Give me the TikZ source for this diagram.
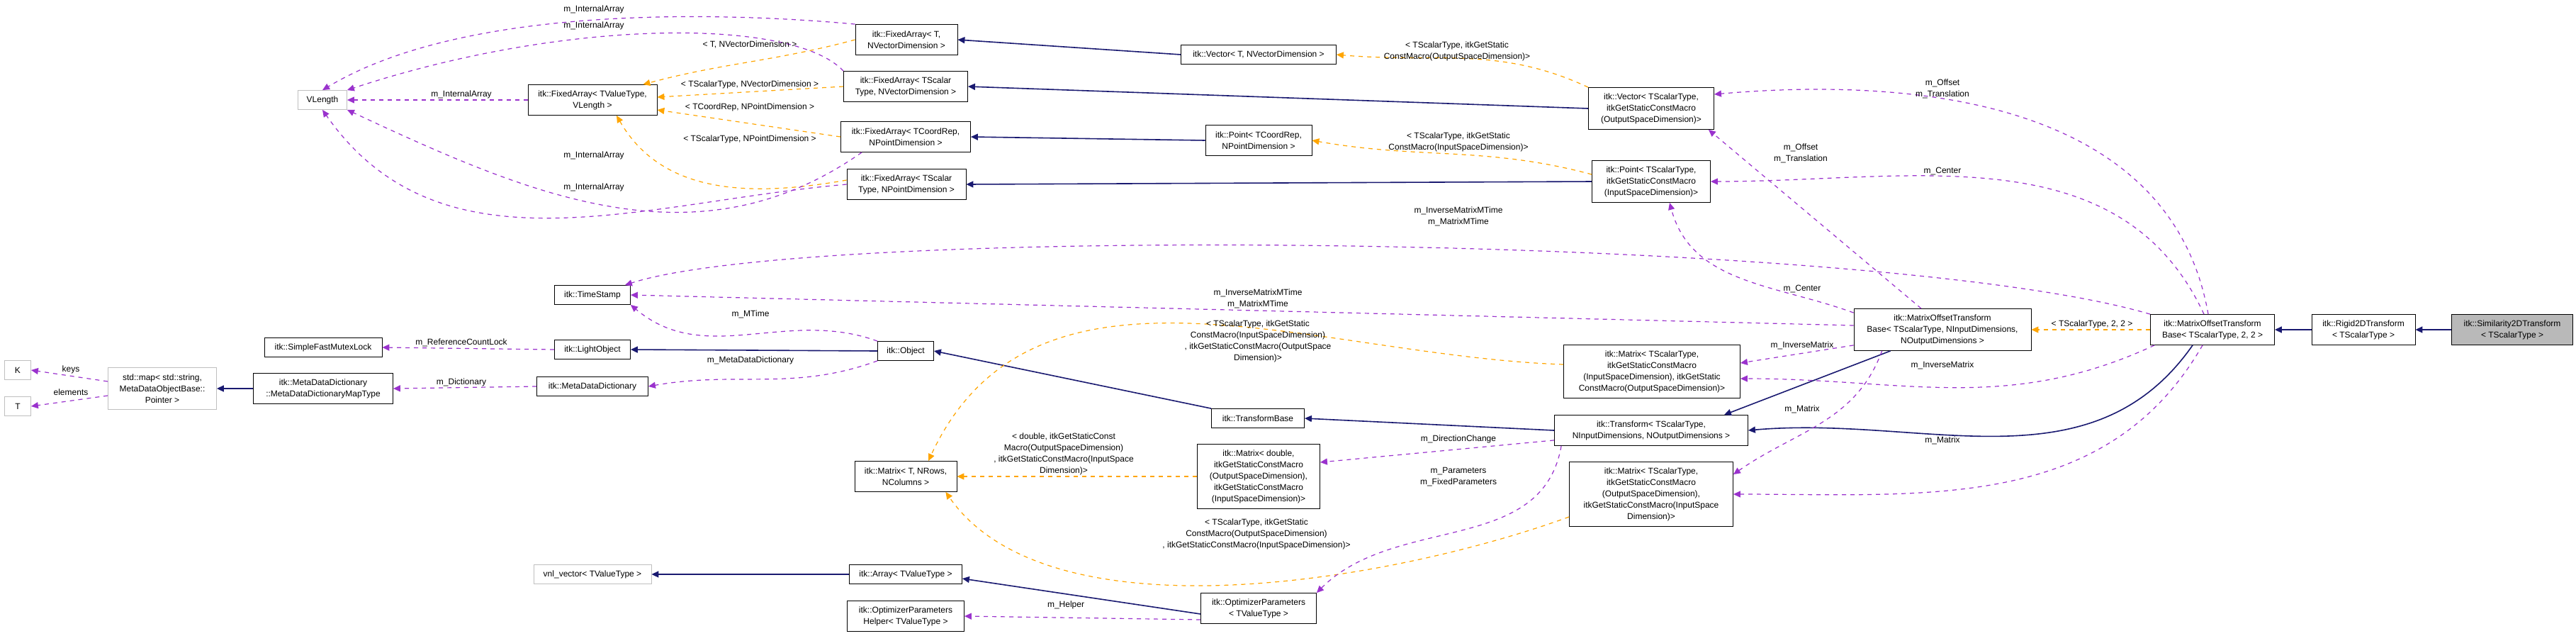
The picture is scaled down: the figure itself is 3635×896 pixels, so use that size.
\documentclass[tikz,border=0pt]{standalone}
\usepackage{fontspec}
\setmainfont{Liberation Sans}
\usetikzlibrary{arrows.meta,positioning}

\definecolor{navyedge}{RGB}{25,25,112}
\definecolor{memb}{RGB}{154,50,205}
\definecolor{tmpl}{RGB}{255,165,0}

\tikzset{
  cls/.style={draw=black, fill=white, align=center, inner sep=0pt,
    font=\fontsize{6}{8}\selectfont},
  ext/.style={cls, draw=gray!50},
  sz/.style 2 args={minimum width=#1*0.5pt, minimum height=#2*0.5pt},
  inh/.style={draw=navyedge, line width=0.8pt, -{Triangle[length=5pt,width=4.5pt]}},
  mem/.style={draw=memb, dashed, line width=0.6pt, -{Triangle[length=5pt,width=4.5pt]}},
  tpl/.style={draw=tmpl, dashed, line width=0.6pt, -{Triangle[length=5pt,width=4.5pt]}},
  lbl/.style={font=\fontsize{6}{8}\selectfont, align=center, inner sep=0pt}
}

\begin{document}
\begin{tikzpicture}[x=0.5pt,y=-0.5pt]
\useasboundingbox (0,0) rectangle (3635,896);

% classes
\node[ext,sz={69}{27}] (VLength) at (455,141) {VLength};
\node[cls,sz={182}{43}] (FA_TV) at (836,141) {itk::FixedArray< TValueType,\\VLength >};
\node[cls,sz={144}{43}] (FA_T) at (1279,56) {itk::FixedArray< T,\\NVectorDimension >};
\node[cls,sz={175}{43}] (FA_SV) at (1278,122) {itk::FixedArray< TScalar\\Type, NVectorDimension >};
\node[cls,sz={183}{43}] (FA_CR) at (1278,193) {itk::FixedArray< TCoordRep,\\NPointDimension >};
\node[cls,sz={168}{43}] (FA_SP) at (1279,260) {itk::FixedArray< TScalar\\Type, NPointDimension >};
\node[cls,sz={219}{27}] (VecT) at (1776,77) {itk::Vector< T, NVectorDimension >};
\node[cls,sz={150}{43}] (PtT) at (1776,198) {itk::Point< TCoordRep,\\NPointDimension >};
\node[cls,sz={177}{59}] (VecS) at (2330,153) {itk::Vector< TScalarType,\\itkGetStaticConstMacro\\(OutputSpaceDimension)>};
\node[cls,sz={167}{59}] (PtS) at (2330,256) {itk::Point< TScalarType,\\itkGetStaticConstMacro\\(InputSpaceDimension)>};

\node[cls,sz={107}{27}] (TimeStamp) at (836,416) {itk::TimeStamp};
\node[cls,sz={166}{27}] (Mutex) at (456,490) {itk::SimpleFastMutexLock};
\node[cls,sz={107}{27}] (LightObj) at (836,493) {itk::LightObject};
\node[cls,sz={157}{27}] (MDD) at (836,545) {itk::MetaDataDictionary};
\node[cls,sz={197}{43}] (MDDMap) at (456,548) {itk::MetaDataDictionary\\::MetaDataDictionaryMapType};
\node[ext,sz={153}{59}] (StdMap) at (229,548) {std::map< std::string,\\MetaDataObjectBase::\\Pointer >};
\node[ext,sz={37}{27}] (K) at (25,522) {K};
\node[ext,sz={37}{27}] (T) at (25,573) {T};
\node[cls,sz={79}{27}] (Object) at (1278,495) {itk::Object};
\node[cls,sz={131}{27}] (TfBase) at (1775,590) {itk::TransformBase};

\node[cls,sz={144}{43}] (MatT) at (1278,672) {itk::Matrix< T, NRows,\\NColumns >};
\node[cls,sz={173}{91}] (MatD) at (1776,672) {itk::Matrix< double,\\itkGetStaticConstMacro\\(OutputSpaceDimension),\\itkGetStaticConstMacro\\(InputSpaceDimension)>};
\node[cls,sz={249}{75}] (MatIO) at (2331,524) {itk::Matrix< TScalarType,\\itkGetStaticConstMacro\\(InputSpaceDimension), itkGetStatic\\ConstMacro(OutputSpaceDimension)>};
\node[cls,sz={273}{43}] (Transform) at (2330,607) {itk::Transform< TScalarType,\\NInputDimensions, NOutputDimensions >};
\node[cls,sz={231}{91}] (MatOI) at (2330,697) {itk::Matrix< TScalarType,\\itkGetStaticConstMacro\\(OutputSpaceDimension),\\itkGetStaticConstMacro(InputSpace\\Dimension)>};
\node[cls,sz={250}{59}] (MOTBN) at (2741,465) {itk::MatrixOffsetTransform\\Base< TScalarType, NInputDimensions,\\NOutputDimensions >};
\node[cls,sz={175}{43}] (MOTB22) at (3122,465) {itk::MatrixOffsetTransform\\Base< TScalarType, 2, 2 >};
\node[cls,sz={146}{43}] (Rigid) at (3335,465) {itk::Rigid2DTransform\\< TScalarType >};
\node[cls,sz={171}{43},fill=gray!55] (Sim) at (3545,465) {itk::Similarity2DTransform\\< TScalarType >};

\node[ext,sz={166}{27}] (vnl) at (836,810) {vnl\_vector< TValueType >};
\node[cls,sz={159}{27}] (Array) at (1278,810) {itk::Array< TValueType >};
\node[cls,sz={163}{43}] (OptP) at (1776,858) {itk::OptimizerParameters\\< TValueType >};
\node[cls,sz={165}{43}] (OptH) at (1278,869) {itk::OptimizerParameters\\Helper< TValueType >};

% inheritance
\draw[inh] (VecT.west) -- (FA_T.east);
\draw[inh] (VecS.west) -- (FA_SV.east);
\draw[inh] (PtT.west) -- (FA_CR.east);
\draw[inh] (PtS.west) -- (FA_SP.east);
\draw[inh] (Object.west) -- (LightObj.east);
\draw[inh] (MDDMap.west) -- (StdMap.east);
\draw[inh] (TfBase.north west) -- (Object.east);
\draw[inh] (Transform.west) -- (TfBase.east);
\draw[inh] ([xshift=26pt]MOTBN.south west) -- ([xshift=-17pt]Transform.north east);
\draw[inh] ([xshift=-14pt]MOTB22.south) to[out=235,in=5] (Transform.east);
\draw[inh] (Rigid.west) -- (MOTB22.east);
\draw[inh] (Sim.west) -- (Rigid.east);
\draw[inh] (Array.west) -- (vnl.east);
\draw[inh] ([yshift=-4pt]OptP.west) -- ([yshift=-3pt]Array.east);

% template instances
\draw[tpl] (FA_T.west) to[out=195,in=15] ([xshift=-10pt]FA_TV.north east);
\draw[tpl] (FA_SV.west) -- ([yshift=2pt]FA_TV.east);
\draw[tpl] (FA_CR.west) -- ([yshift=-7pt]FA_TV.east);
\draw[tpl] ([yshift=3pt]FA_SP.west) to[out=190,in=-60] ([xshift=17pt]FA_TV.south);
\draw[tpl] (VecS.north west) to[out=155,in=-5] (VecT.east);
\draw[tpl] ([yshift=5pt]PtS.west) to[out=165,in=-10] (PtT.east);
\draw[tpl] (MatD.west) -- (MatT.east);
\draw[tpl] ([yshift=5pt]MatIO.west) to[out=178,in=65] ([xshift=16pt]MatT.north);
\draw[tpl] ([yshift=-16pt]MatOI.west) to[out=200,in=-55,looseness=0.75] ([xshift=-8pt]MatT.south east);
\draw[tpl] (MOTB22.west) -- (MOTBN.east);

% members
\draw[mem] (FA_T.north west) .. controls (1000,15) and (650,10) .. (VLength.north);
\draw[mem] (FA_SV.north west) .. controls (1120,25) and (800,25) .. (VLength.north east);
\draw[mem] (FA_TV.west) -- (VLength.east);
\draw[mem] ([xshift=15pt]FA_CR.south west) to[out=215,in=-25] (VLength.south east);
\draw[mem] (FA_SP.west) to[out=185,in=-55] (VLength.south);
\draw[mem] ([yshift=5pt]StdMap.west) -- (K.east);
\draw[mem] ([yshift=-5pt]StdMap.west) -- (T.east);
\draw[mem] (LightObj.west) -- (Mutex.east);
\draw[mem] (MDD.west) -- (MDDMap.east);
\draw[mem] (Object.south west) to[out=200,in=10] (MDD.east);
\draw[mem] (Object.north west) to[out=160,in=-40] (TimeStamp.south east);
\draw[mem] ([yshift=3pt]MOTBN.west) -- (TimeStamp.east);
\draw[mem] (MOTB22.north west) .. controls (2650,330) and (1150,315) .. ([xshift=-4pt]TimeStamp.north east);
\draw[mem] ([xshift=-3pt]MOTB22.north) to[out=100,in=5] ([yshift=10pt]VecS.east);
\draw[mem] ([xshift=-6pt]MOTB22.north) to[out=115,in=0] (PtS.east);
\draw[mem] ([xshift=-15pt]MOTBN.north) -- ([xshift=-4pt]VecS.south east);
\draw[mem] ([yshift=-3pt]MOTBN.north west) to[out=160,in=-75] ([xshift=13pt]PtS.south);
\draw[mem] ([yshift=4pt]MOTBN.south west) -- ([yshift=6pt]MatIO.east);
\draw[mem] ([xshift=3pt]MOTB22.south west) to[out=205,in=0] ([yshift=-5pt]MatIO.east);
\draw[mem] ([xshift=20pt]MOTBN.south west) to[out=-110,in=35] ([yshift=-9pt]MatOI.north east);
\draw[mem] ([xshift=-7pt]MOTB22.south) to[out=-120,in=0] (MatOI.east);
\draw[mem] ([yshift=4pt]Transform.south west) -- ([yshift=10pt]MatD.east);
\draw[mem] ([xshift=5pt]Transform.south west) to[out=-100,in=45] (OptP.north east);
\draw[mem] ([yshift=-8pt]OptP.west) -- (OptH.east);

% labels
\node[lbl] (l1) at (838,13) {m\_InternalArray};
\node[lbl] (l2) at (838,36) {m\_InternalArray};
\node[lbl] (l3) at (651,133) {m\_InternalArray};
\node[lbl] (l4) at (838,219) {m\_InternalArray};
\node[lbl] (l5) at (838,264) {m\_InternalArray};
\node[lbl] (l6) at (1058,63) {< T, NVectorDimension >};
\node[lbl] (l7) at (1058,119) {< TScalarType, NVectorDimension >};
\node[lbl] (l8) at (1058,151) {< TCoordRep, NPointDimension >};
\node[lbl] (l9) at (1058,196) {< TScalarType, NPointDimension >};
\node[lbl] (l10) at (2056,72) {< TScalarType, itkGetStatic\\ConstMacro(OutputSpaceDimension)>};
\node[lbl] (l11) at (2058,200) {< TScalarType, itkGetStatic\\ConstMacro(InputSpaceDimension)>};
\node[lbl] (l12) at (2741,125) {m\_Offset\\m\_Translation};
\node[lbl] (l13) at (2541,216) {m\_Offset\\m\_Translation};
\node[lbl] (l14) at (2741,241) {m\_Center};
\node[lbl] (l15) at (2058,305) {m\_InverseMatrixMTime\\m\_MatrixMTime};
\node[lbl] (l16) at (2543,407) {m\_Center};
\node[lbl] (l17) at (1775,421) {m\_InverseMatrixMTime\\m\_MatrixMTime};
\node[lbl] (l18) at (1059,443) {m\_MTime};
\node[lbl] (l19) at (651,483) {m\_ReferenceCountLock};
\node[lbl] (l20) at (1059,508) {m\_MetaDataDictionary};
\node[lbl] (l21) at (651,539) {m\_Dictionary};
\node[lbl] (l22) at (100,521) {keys};
\node[lbl] (l23) at (100,553) {elements};
\node[lbl] (l24) at (1775,481) {< TScalarType, itkGetStatic\\ConstMacro(InputSpaceDimension)\\, itkGetStaticConstMacro(OutputSpace\\Dimension)>};
\node[lbl] (l25) at (2952,457) {< TScalarType, 2, 2 >};
\node[lbl] (l26) at (2543,487) {m\_InverseMatrix};
\node[lbl] (l27) at (2741,515) {m\_InverseMatrix};
\node[lbl] (l28) at (2543,577) {m\_Matrix};
\node[lbl] (l29) at (2741,621) {m\_Matrix};
\node[lbl] (l30) at (2058,619) {m\_DirectionChange};
\node[lbl] (l31) at (2058,673) {m\_Parameters\\m\_FixedParameters};
\node[lbl] (l32) at (1501,640) {< double, itkGetStaticConst\\Macro(OutputSpaceDimension)\\, itkGetStaticConstMacro(InputSpace\\Dimension)>};
\node[lbl] (l33) at (1773,753) {< TScalarType, itkGetStatic\\ConstMacro(OutputSpaceDimension)\\, itkGetStaticConstMacro(InputSpaceDimension)>};
\node[lbl] (l34) at (1504,853) {m\_Helper};
\end{tikzpicture}
\end{document}
